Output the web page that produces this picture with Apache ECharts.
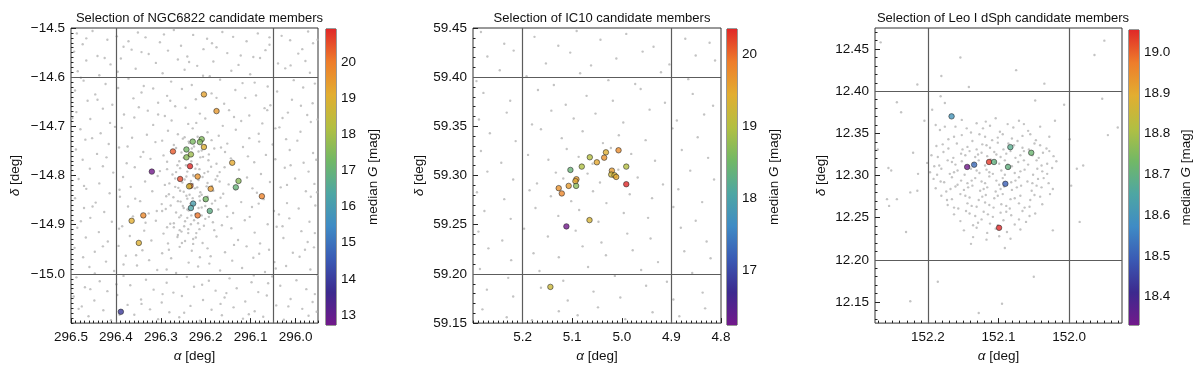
<!DOCTYPE html>
<html><head><meta charset="utf-8">
<script src="https://cdn.jsdelivr.net/npm/echarts@6/dist/echarts.min.js"></script>
<style>html,body{margin:0;padding:0;background:#fff}#c{width:1200px;height:368px}</style>
</head><body><div id="c"></div>
<script>
// ---------------- DATA ----------------
const titles = ['Selection of NGC6822 candidate members', 'Selection of IC10 candidate members', 'Selection of Leo I dSph candidate members'];

// candidate members: [alpha, delta, median G]
const ngcMembers = [
 [296.204,-14.635,19.3],[296.176,-14.669,19.5],[296.229,-14.731,17.4],[296.209,-14.726,17.5],[296.213,-14.732,17.5],
 [296.204,-14.742,19.0],[296.273,-14.751,20.4],[296.243,-14.747,17.3],[296.243,-14.763,17.6],[296.233,-14.757,17.9],
 [296.235,-14.781,20.92],[296.141,-14.774,19.2],[296.320,-14.792,12.72],[296.218,-14.802,19.6],[296.257,-14.807,20.6],
 [296.234,-14.821,20.2],[296.237,-14.822,18.8],[296.189,-14.827,19.5],[296.127,-14.811,17.6],[296.133,-14.824,17.0],
 [296.075,-14.842,19.9],[296.200,-14.848,17.3],[296.228,-14.857,16.1],[296.233,-14.866,16.3],[296.191,-14.872,16.8],
 [296.218,-14.881,20.1],[296.339,-14.881,19.8],[296.365,-14.892,19.1],[296.349,-14.937,19.0],[296.389,-15.077,13.9]
];
const ic10Members = [
 [5.0066,59.3257,19.75],[5.032,59.3236,19.4],[5.0355,59.3182,19.7],[5.0503,59.3135,19.5],[5.0645,59.3186,19.0],
 [5.0807,59.3091,18.95],[4.991,59.3091,19.0],[5.1036,59.3057,18.4],[5.020,59.305,19.6],[5.0213,59.301,19.25],
 [5.0147,59.3003,19.3],[5.0113,59.2986,19.5],[5.0915,59.2963,19.6],[5.0935,59.2943,19.5],[5.1071,59.2895,19.6],
 [5.0921,59.2895,18.7],[5.1272,59.2872,19.7],[5.121,59.2818,19.8],[4.991,59.2912,20.35],[5.0651,59.2547,19.3],
 [5.1117,59.2483,16.24],[5.144,59.1868,19.2]
];
const leoMembers = [
 [152.1665,12.3702,18.6],[152.0832,12.3337,18.68],[152.0536,12.327,18.72],[152.1134,12.3161,19.04],[152.1063,12.3161,18.7],
 [152.1345,12.3129,18.52],[152.1444,12.3102,18.33],[152.0865,12.3102,18.7],[152.0903,12.2902,18.5],[152.0992,12.238,19.055]
];

// field stars (grey): [alpha, delta]
const ngcField = [
[296.487,-14.511],[296.452,-14.506],[296.398,-14.517],[296.351,-14.509],[296.334,-14.519],[296.271,-14.504],[296.228,-14.514],[296.163,-14.508],[296.139,-14.518],[296.084,-14.511],[296.031,-14.516],[295.972,-14.507],
[296.474,-14.533],[296.419,-14.524],[296.383,-14.538],[296.302,-14.529],[296.255,-14.536],[296.197,-14.522],[296.176,-14.539],[296.109,-14.527],[296.058,-14.534],[296.012,-14.525],[295.961,-14.531],
[296.493,-14.548],[296.441,-14.557],[296.365,-14.544],[296.327,-14.553],[296.284,-14.546],[296.241,-14.558],[296.205,-14.543],[296.152,-14.551],[296.094,-14.559],[296.067,-14.545],[295.994,-14.552],
[296.466,-14.566],[296.412,-14.574],[296.389,-14.562],[296.311,-14.571],[296.262,-14.564],[296.219,-14.577],[296.183,-14.568],[296.127,-14.575],[296.079,-14.561],[296.039,-14.572],[295.978,-14.567],
[296.485,-14.588],[296.437,-14.596],[296.356,-14.583],[296.296,-14.592],[296.247,-14.585],[296.191,-14.598],[296.143,-14.587],[296.101,-14.594],[296.023,-14.582],[295.968,-14.591],
[296.472,-14.607],[296.423,-14.614],[296.372,-14.603],[296.338,-14.618],[296.277,-14.609],[296.231,-14.616],[296.168,-14.605],[296.118,-14.612],[296.062,-14.619],[296.004,-14.606],[295.957,-14.613],
[296.491,-14.627],[296.446,-14.635],[296.395,-14.622],[296.343,-14.631],[296.286,-14.638],[296.253,-14.624],[296.187,-14.633],[296.134,-14.626],[296.088,-14.637],[296.041,-14.629],[295.983,-14.621],
[296.463,-14.648],[296.408,-14.656],[296.361,-14.643],[296.306,-14.652],[296.268,-14.659],[296.222,-14.645],[296.159,-14.654],[296.112,-14.642],[296.056,-14.657],[296.008,-14.646],[295.962,-14.653],
[296.488,-14.671],[296.429,-14.664],[296.382,-14.676],[296.329,-14.668],[296.291,-14.679],[296.245,-14.662],[296.213,-14.674],[296.148,-14.667],[296.103,-14.678],[296.069,-14.663],[296.017,-14.672],[295.974,-14.677],
[296.457,-14.685],[296.413,-14.693],[296.359,-14.682],[296.317,-14.697],[296.276,-14.688],[296.239,-14.695],[296.201,-14.684],[296.162,-14.699],[296.121,-14.689],[296.074,-14.694],[296.029,-14.683],[295.966,-14.691],
[296.479,-14.706],[296.434,-14.714],[296.387,-14.703],[296.331,-14.717],[296.284,-14.709],[296.262,-14.716],[296.229,-14.704],[296.196,-14.712],[296.171,-14.719],[296.133,-14.707],[296.082,-14.715],[296.036,-14.702],[295.989,-14.711],
[296.468,-14.727],[296.416,-14.736],[296.364,-14.723],[296.312,-14.732],[296.271,-14.738],[296.251,-14.725],[296.237,-14.734],[296.218,-14.721],[296.201,-14.739],[296.187,-14.728],[296.152,-14.735],[296.103,-14.724],[296.051,-14.737],[295.996,-14.729],
[296.489,-14.747],[296.442,-14.756],[296.393,-14.743],[296.339,-14.752],[296.294,-14.759],[296.266,-14.744],[296.254,-14.753],[296.238,-14.758],[296.226,-14.741],[296.209,-14.749],[296.193,-14.757],[296.181,-14.745],[296.157,-14.752],[296.117,-14.742],[296.066,-14.758],[296.013,-14.748],[295.961,-14.754],
[296.474,-14.768],[296.421,-14.763],[296.376,-14.775],[296.323,-14.766],[296.286,-14.772],[296.263,-14.779],[296.249,-14.764],[296.232,-14.771],[296.219,-14.777],[296.206,-14.762],[296.194,-14.769],[296.176,-14.776],[296.144,-14.765],[296.092,-14.773],[296.045,-14.767],[295.982,-14.774],
[296.458,-14.786],[296.406,-14.794],[296.358,-14.783],[296.302,-14.791],[296.274,-14.798],[296.257,-14.785],[296.241,-14.792],[296.228,-14.799],[296.214,-14.787],[296.203,-14.795],[296.188,-14.782],[296.169,-14.793],[296.126,-14.788],[296.077,-14.797],[296.024,-14.784],[295.971,-14.792],
[296.483,-14.807],[296.437,-14.816],[296.384,-14.803],[296.335,-14.812],[296.291,-14.819],[296.268,-14.806],[296.252,-14.814],[296.243,-14.802],[296.229,-14.817],[296.216,-14.809],[296.207,-14.803],[296.196,-14.815],[296.178,-14.808],[296.149,-14.818],[296.108,-14.804],[296.057,-14.813],[296.001,-14.806],[295.958,-14.817],
[296.466,-14.827],[296.414,-14.836],[296.367,-14.823],[296.319,-14.832],[296.282,-14.838],[296.261,-14.825],[296.249,-14.833],[296.236,-14.839],[296.224,-14.826],[296.212,-14.834],[296.198,-14.822],[296.183,-14.831],[296.161,-14.837],[296.134,-14.828],[296.086,-14.835],[296.033,-14.824],[295.977,-14.832],
[296.491,-14.846],[296.445,-14.855],[296.391,-14.843],[296.346,-14.852],[296.298,-14.858],[296.272,-14.844],[296.256,-14.853],[296.241,-14.847],[296.227,-14.859],[296.214,-14.842],[296.203,-14.851],[296.186,-14.857],[296.167,-14.845],[296.121,-14.854],[296.071,-14.848],[296.019,-14.856],[295.966,-14.843],
[296.471,-14.866],[296.426,-14.874],[296.373,-14.863],[296.327,-14.877],[296.289,-14.868],[296.266,-14.875],[296.251,-14.862],[296.238,-14.871],[296.223,-14.878],[296.209,-14.865],[296.191,-14.873],[296.172,-14.869],[296.139,-14.876],[296.097,-14.864],[296.048,-14.872],[295.993,-14.867],
[296.457,-14.886],[296.409,-14.894],[296.362,-14.883],[296.311,-14.892],[296.279,-14.898],[296.259,-14.885],[296.246,-14.893],[296.232,-14.881],[296.217,-14.897],[296.201,-14.888],[296.184,-14.895],[296.152,-14.884],[296.113,-14.891],[296.062,-14.899],[296.014,-14.887],[295.969,-14.894],
[296.486,-14.906],[296.438,-14.915],[296.386,-14.903],[296.337,-14.912],[296.294,-14.918],[296.271,-14.905],[296.254,-14.914],[296.239,-14.909],[296.221,-14.917],[296.204,-14.902],[296.181,-14.911],[296.143,-14.907],[296.091,-14.916],[296.042,-14.904],[295.987,-14.913],
[296.467,-14.926],[296.418,-14.934],[296.369,-14.923],[296.321,-14.932],[296.284,-14.938],[296.263,-14.925],[296.246,-14.933],[296.228,-14.929],[296.207,-14.937],[296.176,-14.924],[296.128,-14.931],[296.079,-14.938],[296.027,-14.927],[295.973,-14.935],
[296.492,-14.947],[296.447,-14.955],[296.394,-14.943],[296.341,-14.952],[296.297,-14.958],[296.258,-14.945],[296.231,-14.953],[296.196,-14.948],[296.157,-14.956],[296.109,-14.944],[296.059,-14.951],[296.006,-14.957],[295.959,-14.946],
[296.473,-14.966],[296.422,-14.975],[296.378,-14.963],[296.326,-14.972],[296.277,-14.968],[296.238,-14.977],[296.189,-14.964],[296.141,-14.973],[296.094,-14.967],[296.047,-14.976],[295.991,-14.965],
[296.459,-14.986],[296.404,-14.994],[296.353,-14.983],[296.308,-14.992],[296.266,-14.998],[296.217,-14.985],[296.168,-14.993],[296.119,-14.988],[296.068,-14.996],[296.021,-14.984],[295.967,-14.991],
[296.488,-15.007],[296.436,-15.015],[296.383,-15.004],[296.333,-15.012],[296.287,-15.018],[296.242,-15.006],[296.193,-15.014],[296.147,-15.009],[296.098,-15.017],[296.052,-15.005],[295.998,-15.013],
[296.469,-15.027],[296.419,-15.035],[296.368,-15.023],[296.316,-15.032],[296.272,-15.038],[296.226,-15.026],[296.178,-15.034],[296.131,-15.029],[296.083,-15.037],[296.034,-15.024],[295.976,-15.031],
[296.494,-15.046],[296.448,-15.054],[296.397,-15.043],[296.344,-15.052],[296.298,-15.058],[296.253,-15.045],[296.206,-15.053],[296.158,-15.048],[296.112,-15.056],[296.064,-15.044],[296.011,-15.051],[295.962,-15.057],
[296.476,-15.066],[296.428,-15.074],[296.374,-15.063],[296.324,-15.072],[296.281,-15.078],[296.234,-15.065],[296.187,-15.073],[296.138,-15.068],[296.091,-15.076],[296.043,-15.064],[295.985,-15.071],
[296.461,-15.086],[296.411,-15.094],[296.359,-15.083],[296.306,-15.092],[296.259,-15.088],[296.213,-15.095],[296.164,-15.084],[296.117,-15.091],[296.072,-15.087],[296.026,-15.093],[295.971,-15.085],
[296.466,-14.521],[296.372,-14.527],[296.293,-14.513],[296.186,-14.531],[296.058,-14.519],[295.951,-14.524],
[296.425,-14.561],[296.343,-14.549],[296.237,-14.569],[296.122,-14.556],[296.011,-14.576],[295.985,-14.543],
[296.478,-14.601],[296.396,-14.589],[296.317,-14.623],[296.206,-14.597],[296.091,-14.611],[295.946,-14.628],
[296.441,-14.646],[296.349,-14.661],[296.279,-14.648],[296.176,-14.642],[296.063,-14.667],[295.988,-14.658],
[296.497,-14.683],[296.402,-14.701],[296.306,-14.676],[296.221,-14.693],[296.137,-14.681],[296.045,-14.704],[295.951,-14.686],
[296.453,-14.724],[296.374,-14.741],[296.297,-14.729],[296.166,-14.743],[296.081,-14.731],[296.021,-14.726],[295.949,-14.741],
[296.429,-14.781],[296.345,-14.762],[296.286,-14.787],[296.158,-14.783],[296.106,-14.761],[296.011,-14.779],[295.954,-14.768],
[296.471,-14.821],[296.392,-14.829],[296.307,-14.801],[296.169,-14.812],[296.096,-14.826],[296.019,-14.819],[295.952,-14.834],
[296.452,-14.863],[296.357,-14.847],[296.309,-14.872],[296.154,-14.862],[296.082,-14.857],[296.037,-14.879],[295.956,-14.861],
[296.478,-14.893],[296.393,-14.908],[296.334,-14.896],[296.164,-14.901],[296.102,-14.884],[296.029,-14.903],[295.957,-14.917],
[296.429,-14.944],[296.355,-14.962],[296.282,-14.951],[296.213,-14.966],[296.137,-14.941],[296.081,-14.959],[295.979,-14.951],
[296.447,-14.999],[296.383,-14.981],[296.287,-14.991],[296.192,-14.979],[296.093,-15.003],[296.044,-14.989],[295.951,-15.002],
[296.457,-15.031],[296.399,-15.021],[296.296,-15.041],[296.208,-15.022],[296.154,-15.039],[296.061,-15.019],[295.957,-15.041],
[296.483,-15.071],[296.392,-15.083],[296.343,-15.061],[296.248,-15.079],[296.167,-15.061],[296.104,-15.082],[296.016,-15.066],[295.953,-15.077],
[296.247,-14.722],[296.231,-14.745],[296.212,-14.763],[296.259,-14.771],[296.223,-14.786],[296.195,-14.792],[296.266,-14.793],
[296.247,-14.808],[296.233,-14.811],[296.219,-14.824],[296.186,-14.821],[296.257,-14.831],[296.243,-14.841],[296.229,-14.846],
[296.209,-14.839],[296.196,-14.843],[296.262,-14.852],[296.249,-14.866],[296.234,-14.857],[296.216,-14.866],[296.201,-14.862],
[296.278,-14.861],[296.255,-14.881],[296.241,-14.886],[296.226,-14.891],[296.209,-14.881],[296.193,-14.884],[296.271,-14.897],
[296.248,-14.903],[296.233,-14.899],[296.214,-14.909],[296.262,-14.921],[296.239,-14.917],[296.222,-14.926],[296.253,-14.937],
[296.281,-14.816],[296.288,-14.842],[296.174,-14.801],[296.179,-14.851],[296.238,-14.731],[296.216,-14.751],[296.244,-14.779],
[296.227,-14.801],[296.268,-14.823],[296.213,-14.851],[296.241,-14.869],[296.258,-14.911],[296.228,-14.939],[296.297,-14.872],[296.286,-14.905]
];
const ic10Field = [
[5.284,59.446],[5.237,59.434],[5.176,59.441],[5.128,59.432],[5.091,59.447],[5.043,59.438],[4.991,59.444],[4.936,59.431],[4.872,59.439],[4.823,59.435],
[5.271,59.421],[5.218,59.427],[5.153,59.414],[5.104,59.425],[5.062,59.412],[5.011,59.419],[4.958,59.426],[4.904,59.413],[4.851,59.422],[4.812,59.417],
[5.293,59.396],[5.246,59.407],[5.192,59.401],[5.137,59.392],[5.084,59.404],[5.027,59.397],[4.973,59.393],[4.921,59.405],[4.866,59.398],
[5.279,59.384],[5.225,59.376],[5.169,59.387],[5.113,59.372],[5.071,59.381],[5.018,59.376],[4.962,59.388],[4.913,59.374],[4.857,59.383],[4.816,59.371],
[5.288,59.357],[5.232,59.364],[5.181,59.352],[5.142,59.366],[5.097,59.358],[5.053,59.363],[4.997,59.354],[4.944,59.367],[4.889,59.356],[4.834,59.362],
[5.266,59.343],[5.214,59.335],[5.163,59.347],[5.121,59.338],[5.079,59.345],[5.038,59.333],[5.006,59.341],[4.952,59.336],[4.898,59.348],[4.847,59.339],
[5.284,59.325],[5.243,59.313],[5.189,59.321],[5.148,59.316],[5.111,59.327],[5.087,59.319],[5.059,59.312],[5.022,59.328],[4.981,59.322],[4.933,59.315],[4.879,59.326],[4.826,59.318],
[5.271,59.304],[5.219,59.296],[5.171,59.292],[5.133,59.303],[5.118,59.297],[5.069,59.302],[5.044,59.293],[5.007,59.306],[4.968,59.298],[4.917,59.291],[4.862,59.305],[4.814,59.296],
[5.292,59.283],[5.237,59.276],[5.186,59.285],[5.143,59.279],[5.102,59.274],[5.058,59.284],[5.031,59.272],[4.984,59.281],[4.939,59.277],[4.886,59.286],[4.838,59.273],
[5.277,59.264],[5.224,59.256],[5.174,59.267],[5.128,59.259],[5.086,59.265],[5.047,59.253],[4.996,59.262],[4.947,59.257],[4.896,59.268],[4.851,59.254],
[5.289,59.243],[5.241,59.234],[5.197,59.246],[5.149,59.238],[5.093,59.244],[5.041,59.232],[4.989,59.241],[4.942,59.236],[4.881,59.247],[4.829,59.233],
[5.269,59.226],[5.223,59.214],[5.178,59.221],[5.127,59.217],[5.079,59.228],[5.032,59.219],[4.978,59.224],[4.927,59.212],[4.874,59.223],[4.821,59.216],
[5.286,59.205],[5.229,59.196],[5.166,59.203],[5.118,59.193],[5.068,59.207],[5.014,59.198],[4.961,59.204],[4.909,59.192],[4.858,59.201],
[5.272,59.184],[5.219,59.177],[5.163,59.186],[5.109,59.173],[5.057,59.182],[5.003,59.176],[4.951,59.188],[4.896,59.174],[4.837,59.181],
[5.281,59.164],[5.232,59.156],[5.181,59.153],[5.127,59.162],[5.089,59.158],[5.048,59.166],[4.993,59.154],[4.938,59.161],[4.884,59.157],[4.832,59.165]
];
const leoField = [
[152.267,12.458],[152.154,12.440],[152.181,12.418],[152.215,12.408],[152.075,12.425],[152.035,12.409],[151.950,12.460],[151.964,12.443],[151.953,12.391],[151.931,12.357],[151.945,12.348],
[152.244,12.387],[152.238,12.375],[152.256,12.309],[152.252,12.306],[152.258,12.272],[152.255,12.264],[152.244,12.272],[152.231,12.233],[152.271,12.331],[152.221,12.327],[152.214,12.302],
[152.215,12.282],[152.225,12.280],[152.186,12.174],[152.225,12.151],[152.128,12.137],[152.095,12.148],[152.050,12.180],[151.985,12.245],[151.997,12.288],[151.989,12.308],[151.980,12.312],
[151.999,12.343],[152.020,12.365],[152.007,12.384],[152.048,12.389],[152.142,12.405],[152.182,12.394],[152.176,12.386],[152.194,12.378],[152.205,12.365],[152.189,12.360],
[152.152,12.366],[152.131,12.362],[152.104,12.368],[152.087,12.361],[152.071,12.365],[152.118,12.364],
[152.183,12.354],[152.161,12.358],[152.139,12.351],[152.122,12.356],[152.098,12.352],[152.079,12.357],[152.058,12.353],[152.041,12.358],
[152.171,12.343],[152.152,12.348],[152.137,12.341],[152.119,12.346],[152.109,12.342],[152.094,12.349],[152.081,12.344],[152.066,12.347],[152.047,12.342],[152.028,12.346],
[152.188,12.335],[152.171,12.332],[152.159,12.338],[152.144,12.334],[152.131,12.331],[152.123,12.337],[152.112,12.333],[152.101,12.339],[152.093,12.331],[152.078,12.336],[152.066,12.333],[152.049,12.338],[152.032,12.332],
[152.195,12.324],[152.178,12.328],[152.164,12.321],[152.153,12.326],[152.141,12.329],[152.133,12.322],[152.124,12.327],[152.116,12.323],[152.106,12.328],[152.097,12.322],[152.089,12.326],[152.076,12.321],[152.064,12.329],[152.052,12.324],[152.037,12.327],[152.022,12.323],
[152.201,12.315],[152.184,12.312],[152.172,12.318],[152.161,12.313],[152.152,12.317],[152.142,12.311],[152.128,12.318],[152.119,12.312],[152.111,12.319],[152.099,12.314],[152.091,12.318],[152.081,12.311],[152.072,12.316],[152.058,12.313],[152.046,12.318],[152.031,12.314],[152.018,12.317],
[152.197,12.304],[152.181,12.308],[152.169,12.302],[152.158,12.306],[152.148,12.301],[152.139,12.308],[152.127,12.303],[152.117,12.307],[152.108,12.302],[152.096,12.306],[152.085,12.309],[152.077,12.303],[152.063,12.307],[152.051,12.301],[152.038,12.305],[152.024,12.309],
[152.192,12.296],[152.177,12.292],[152.166,12.298],[152.153,12.294],[152.144,12.291],[152.133,12.297],[152.124,12.293],[152.113,12.299],[152.103,12.294],[152.094,12.297],[152.082,12.292],[152.071,12.298],[152.059,12.293],[152.044,12.296],[152.029,12.291],
[152.189,12.285],[152.174,12.281],[152.161,12.287],[152.149,12.283],[152.137,12.288],[152.126,12.282],[152.116,12.286],[152.104,12.281],[152.092,12.287],[152.081,12.283],[152.068,12.288],[152.053,12.282],[152.039,12.286],[152.023,12.284],
[152.181,12.276],[152.166,12.272],[152.154,12.278],[152.141,12.274],[152.128,12.271],[152.118,12.277],[152.106,12.273],[152.094,12.278],[152.083,12.272],[152.069,12.276],[152.055,12.271],[152.041,12.275],[152.027,12.278],
[152.172,12.265],[152.157,12.261],[152.144,12.267],[152.131,12.263],[152.119,12.268],[152.107,12.262],[152.096,12.266],[152.084,12.261],[152.071,12.267],[152.056,12.263],[152.038,12.266],
[152.163,12.254],[152.146,12.258],[152.133,12.252],[152.121,12.257],[152.108,12.251],[152.097,12.256],[152.082,12.253],[152.066,12.258],[152.048,12.255],
[152.154,12.246],[152.136,12.241],[152.124,12.248],[152.112,12.243],[152.093,12.247],[152.077,12.242],[152.061,12.245],
[152.149,12.235],[152.131,12.238],[152.116,12.232],[152.104,12.237],[152.088,12.233],[152.069,12.236],[152.023,12.235],
[152.136,12.227],[152.117,12.224],[152.099,12.228],[152.083,12.225],[152.139,12.219],[152.091,12.214],
[152.176,12.358],[152.145,12.356],[152.112,12.359],[152.064,12.361],[152.163,12.346],[152.127,12.349],[152.101,12.345],[152.073,12.341],[152.055,12.349],
[152.179,12.337],[152.151,12.331],[152.117,12.336],[152.086,12.338],[152.057,12.331],[152.041,12.336],
[152.186,12.322],[152.147,12.324],[152.129,12.325],[152.103,12.325],[152.083,12.329],[152.069,12.324],[152.043,12.321],[152.028,12.329],
[152.191,12.311],[152.166,12.316],[152.135,12.314],[152.105,12.316],[152.087,12.313],[152.064,12.318],[152.039,12.312],
[152.187,12.301],[152.163,12.304],[152.131,12.306],[152.113,12.304],[152.091,12.301],[152.069,12.305],[152.045,12.308],[152.031,12.302],
[152.182,12.293],[152.158,12.289],[152.138,12.294],[152.119,12.291],[152.099,12.289],[152.076,12.294],[152.052,12.291],[152.036,12.297],
[152.168,12.284],[152.143,12.286],[152.121,12.284],[152.097,12.284],[152.074,12.286],[152.046,12.288],
[152.173,12.271],[152.147,12.276],[152.123,12.275],[152.101,12.276],[152.077,12.273],[152.049,12.277],
[152.163,12.262],[152.138,12.264],[152.113,12.265],[152.089,12.264],[152.063,12.262],
[152.141,12.255],[152.115,12.254],[152.089,12.257],[152.056,12.252],[152.129,12.244],[152.101,12.241],[152.071,12.248]
];

// tick labels
const ngcXTicks = [296.5, 296.4, 296.3, 296.2, 296.1, 296.0];
const ngcYTicks = [-14.5, -14.6, -14.7, -14.8, -14.9, -15.0];
const ngcGTicks = [13, 14, 15, 16, 17, 18, 19, 20];
const ic10XTicks = [5.2, 5.1, 5.0, 4.9, 4.8];
const ic10YTicks = [59.15, 59.20, 59.25, 59.30, 59.35, 59.40, 59.45];
const ic10GTicks = [17, 18, 19, 20];
const leoXTicks = [152.2, 152.1, 152.0];
const leoYTicks = [12.15, 12.20, 12.25, 12.30, 12.35, 12.40, 12.45];
const leoGTicks = [18.4, 18.5, 18.6, 18.7, 18.8, 18.9, 19.0];

// reference lines
const ngcVLines = [296.4, 296.05], ngcHLines = [-14.6, -15.0];
const ic10VLines = [5.2, 4.9], ic10HLines = [59.4, 59.2];
const leoVLines = [152.2, 152.0], leoHLines = [12.4, 12.2];

// colour scale ranges (median G)
const ngcGRange = [12.72, 20.92];
const ic10GRange = [16.24, 20.35];
const leoGRange = [18.33, 19.055];

// ---------------- STYLE / LAYOUT ----------------
const FONT = 'Liberation Sans';
const CMAP = ['#72198b','#3c2a8e','#3a5ab4','#3f8bc5','#4ea6a3','#72b866','#b2bf42','#e2ae31','#ee7d2b','#e02828'];
const MINUS = '\u2212';
function steps(a, b, s) { const out = []; const n = Math.round((b - a) / s); for (let i = 0; i <= n; i++) out.push(+(a + i * s).toFixed(4)); return out; }
function fmtSigned(d) { return v => (v < 0 ? MINUS : '') + Math.abs(v).toFixed(d); }

const panels = [
 { title: titles[0], titleX: 194.5, grid: {left: 71, top: 28, width: 247, height: 297}, cb: {left: 326, top: 29, width: 10, height: 296},
   x: [295.95, 296.5], y: [-15.1, -14.5], xTicks: ngcXTicks, yTicks: ngcYTicks, xd: 1, yd: 1,
   xMinor: steps(295.95, 296.5, 0.01), yMinor: steps(-15.1, -14.5, 0.01),
   g: ngcGRange, gTicks: ngcGTicks, gd: 0, stars: ngcMembers, field: ngcField, v: ngcVLines, h: ngcHLines, yGap: 49 },
 { title: titles[1], titleX: 597, grid: {left: 473, top: 28, width: 248, height: 297}, cb: {left: 727, top: 29, width: 10, height: 296},
   x: [4.8, 5.3], y: [59.15, 59.45], xTicks: ic10XTicks, yTicks: ic10YTicks, xd: 1, yd: 2,
   xMinor: steps(4.8, 5.3, 0.01), yMinor: steps(59.15, 59.45, 0.01),
   g: ic10GRange, gTicks: ic10GTicks, gd: 0, stars: ic10Members, field: ic10Field, v: ic10VLines, h: ic10HLines, yGap: 47 },
 { title: titles[2], titleX: 998, grid: {left: 875, top: 28, width: 247, height: 297}, cb: {left: 1129, top: 30, width: 10, height: 295},
   x: [151.925, 152.275], y: [12.125, 12.475], xTicks: leoXTicks, yTicks: leoYTicks, xd: 1, yd: 2,
   xMinor: steps(151.93, 152.27, 0.01), yMinor: steps(12.13, 12.47, 0.01),
   g: leoGRange, gTicks: leoGTicks, gd: 1, stars: leoMembers, field: leoField, v: leoVLines, h: leoHLines, yGap: 47 }
];

const txt = { fontFamily: FONT, fontSize: 13.5, color: '#111' };
const rich = { i: { fontFamily: FONT, fontSize: 13.5, fontStyle: 'italic', color: '#111' } };

const option = { animation: false, backgroundColor: '#fff', title: [], grid: [], xAxis: [], yAxis: [], series: [], visualMap: [] };

panels.forEach(p => {
  const gi = option.grid.length;
  option.grid.push(Object.assign({ show: true, borderColor: '#333', borderWidth: 1, backgroundColor: 'rgba(0,0,0,0)' }, p.grid));
  option.grid.push(Object.assign({ show: true, borderColor: '#333', borderWidth: 1, backgroundColor: 'rgba(0,0,0,0)' }, p.cb));
  option.title.push({ text: p.title, left: p.titleX, top: 7, textAlign: 'center', textStyle: { fontFamily: FONT, fontSize: 13, fontWeight: 'normal', color: '#111' } });

  const xi = option.xAxis.length, yi = option.yAxis.length;
  option.xAxis.push({ type: 'value', gridIndex: gi, position: 'bottom', min: p.x[0], max: p.x[1], inverse: true,
    axisLine: { show: false }, splitLine: { show: false },
    axisTick: { show: true, inside: true, length: 5, customValues: p.xTicks, lineStyle: { color: '#222' } },
    axisLabel: Object.assign({ customValues: p.xTicks, formatter: fmtSigned(p.xd), margin: 7, showMinLabel: true, showMaxLabel: true }, txt),
    name: '{i|\u03b1} [deg]', nameLocation: 'middle', nameGap: 24, nameTextStyle: Object.assign({ rich }, txt) });
  option.yAxis.push({ type: 'value', gridIndex: gi, position: 'left', min: p.y[0], max: p.y[1],
    axisLine: { show: false }, splitLine: { show: false },
    axisTick: { show: true, inside: true, length: 5, customValues: p.yTicks, lineStyle: { color: '#222' } },
    axisLabel: Object.assign({ customValues: p.yTicks, formatter: fmtSigned(p.yd), margin: 6, showMinLabel: true, showMaxLabel: true }, txt),
    name: '{i|\u03b4} [deg]', nameLocation: 'middle', nameRotate: 90, nameGap: p.yGap, nameTextStyle: Object.assign({ rich }, txt) });
  option.xAxis.push({ type: 'value', gridIndex: gi, position: 'bottom', min: p.x[0], max: p.x[1], inverse: true,
    axisLine: { show: false }, splitLine: { show: false }, axisLabel: { show: false },
    axisTick: { show: true, inside: true, length: 2.5, customValues: p.xMinor, lineStyle: { color: '#222' } } });
  option.yAxis.push({ type: 'value', gridIndex: gi, position: 'left', min: p.y[0], max: p.y[1],
    axisLine: { show: false }, splitLine: { show: false }, axisLabel: { show: false },
    axisTick: { show: true, inside: true, length: 2.5, customValues: p.yMinor, lineStyle: { color: '#222' } } });
  option.xAxis.push({ type: 'value', gridIndex: gi + 1, min: 0, max: 1, show: false });
  option.yAxis.push({ type: 'value', gridIndex: gi + 1, position: 'right', min: p.g[0], max: p.g[1],
    axisLine: { show: false }, splitLine: { show: false },
    axisTick: { show: true, inside: false, length: 3.5, customValues: p.gTicks, lineStyle: { color: '#222' } },
    axisLabel: Object.assign({ customValues: p.gTicks, formatter: v => v.toFixed(p.gd), margin: 5 }, txt),
    name: 'median {i|G} [mag]', nameLocation: 'middle', nameRotate: 90, nameGap: p.gd ? 40 : 30, nameTextStyle: Object.assign({ rich }, txt) });

  option.series.push({ type: 'scatter', xAxisIndex: xi, yAxisIndex: yi, data: p.field, symbol: 'circle', symbolSize: 2.4,
    itemStyle: { color: '#b4b4b4' }, silent: true, z: 2,
    markLine: { silent: true, symbol: 'none', label: { show: false }, animation: false,
      lineStyle: { color: '#5c5c5c', width: 1.2, type: 'solid' },
      data: p.v.map(v => ({ xAxis: v })).concat(p.h.map(v => ({ yAxis: v }))) } });
  const si = option.series.length;
  option.series.push({ type: 'scatter', xAxisIndex: xi, yAxisIndex: yi, data: p.stars, symbol: 'circle', symbolSize: 5.5,
    itemStyle: { borderColor: '#222', borderWidth: 0.7 }, z: 4 });
  option.visualMap.push({ type: 'continuous', show: false, seriesIndex: si, dimension: 2, min: p.g[0], max: p.g[1], inRange: { color: CMAP } });
  option.series.push({ type: 'custom', xAxisIndex: xi + 2, yAxisIndex: yi + 2, data: [[0, p.g[0], p.g[1]]], silent: true,
    renderItem: (params, api) => {
      const a = api.coord([0, api.value(2)]);
      const b = api.coord([1, api.value(1)]);
      return { type: 'rect', shape: { x: a[0], y: a[1], width: b[0] - a[0], height: b[1] - a[1] },
        style: { fill: new echarts.graphic.LinearGradient(0, 1, 0, 0, CMAP.map((c, k) => ({ offset: k / (CMAP.length - 1), color: c }))) } };
    } });
});

const chart = echarts.init(document.getElementById('c'), null, { renderer: 'canvas' });
chart.setOption(option);
</script>
</body></html>
